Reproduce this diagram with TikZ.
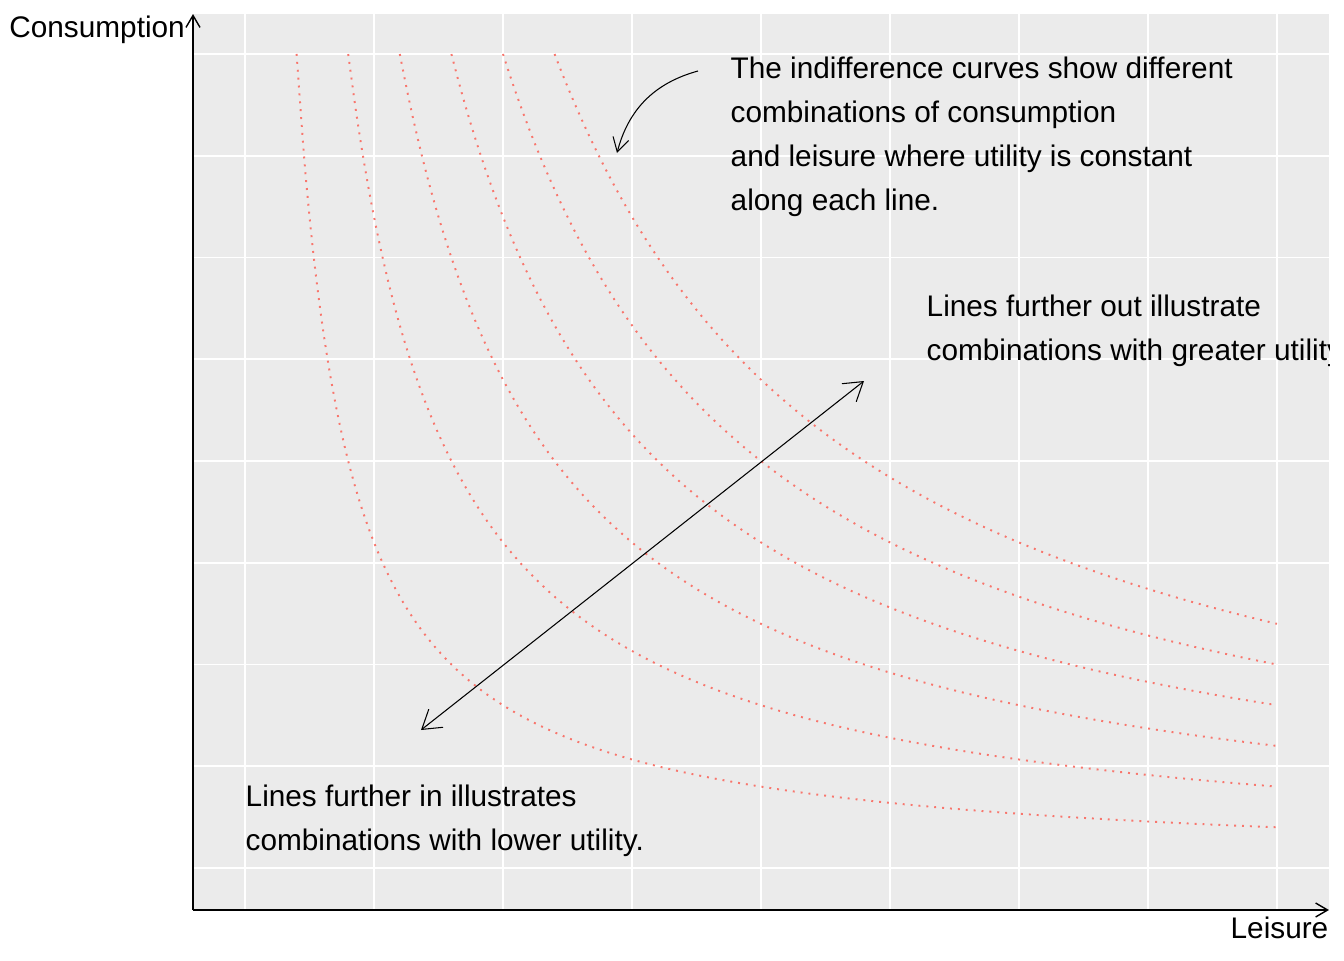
\documentclass[tikz,border=0pt]{standalone}
\usepackage{fontspec}
\setmainfont{Liberation Sans}
\usetikzlibrary{arrows.meta}
\definecolor{panelgrey}{HTML}{EBEBEB}
\definecolor{curvered}{HTML}{F8766D}
\tikzset{
	gridmaj/.style={white,line width=0.55pt},
	gridmin/.style={white,line width=0.3pt},
	indiff/.style={curvered,line width=0.55pt,dash pattern=on 0.55pt off 1.7pt},
	axisline/.style={black,line width=0.4pt,-{Straight Barb[length=1.2mm,width=1.4mm]}},
	shiftarrow/.style={black,line width=0.3pt,{Straight Barb[length=1.8mm,width=2.3mm]}-{Straight Barb[length=1.8mm,width=2.3mm]}},
	pointer/.style={black,line width=0.3pt,-{Straight Barb[length=1.4mm,width=1.6mm]}},
	note/.style={font=\fontsize{8.47pt}{12.5pt}\selectfont,inner sep=0pt,align=left}
}
\begin{document}
\begin{tikzpicture}
	\useasboundingbox[fill=white] (0,0) rectangle (13.44,9.6);
	\fill[panelgrey] (1.93,0.50) rectangle (13.29,9.46);
	\foreach \gx in {3.74,6.32,8.90,11.48}
		\draw[gridmin] (\gx,0.50) -- (\gx,9.46);
	\foreach \gx in {2.45,5.03,7.61,10.19,12.77}
		\draw[gridmaj] (\gx,0.50) -- (\gx,9.46);
	\foreach \i in {0,...,8}
		\draw[gridmaj] (1.93,0.92+1.0175*\i) -- (13.29,0.92+1.0175*\i);
	\foreach \k [evaluate=\k as \xs using 0.516*\k] in {1,...,6}
		\draw[indiff] plot[domain=\xs:10.32,samples=120,smooth] ({2.45+\x},{0.92+4.2*\k/\x});
	\coordinate (orig) at (1.93,0.50);
	\coordinate (yend) at (1.93,9.46);
	\coordinate (xend) at (13.29,0.50);
	\draw[axisline] (orig) -- (yend);
	\draw[axisline] (orig) -- (xend);
	\node[note,anchor=base east] (lblcons) at (1.855,9.23) {Consumption};
	\node[note,anchor=base east] (lblleis) at (13.29,0.22) {Leisure};
	\coordinate (lowend) at (4.21,2.30);
	\coordinate (highend) at (8.64,5.79);
	\draw[shiftarrow] (lowend) -- (highend);
	\coordinate (notefrom) at (6.98,8.89);
	\coordinate (noteto) at (6.17,8.07);
	\draw[pointer] (notefrom) to[bend right=30] (noteto);
	\node[note,anchor=north west] (notecurves) at (7.30,9.035) {The indifference curves show different\\combinations of consumption\\and leisure where utility is constant\\along each line.};
	\begin{scope}
		\clip (1.93,0.50) rectangle (13.29,9.46);
		\node[note,anchor=north west] (noteout) at (9.26,6.655) {Lines further out illustrate\\combinations with greater utility};
	\end{scope}
	\node[note,anchor=north west] (notein) at (2.45,1.755) {Lines further in illustrates\\combinations with lower utility.};
\end{tikzpicture}
\end{document}
